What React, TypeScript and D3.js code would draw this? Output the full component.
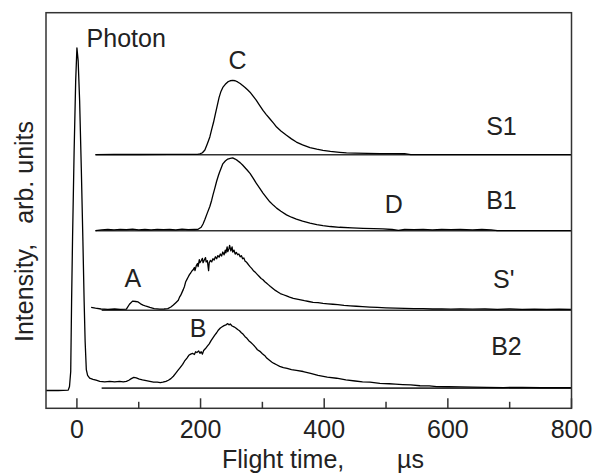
import React from "react";
import * as d3 from "d3";

// ---- data (flight time in µs, intensity in arb. units above each trace baseline) ----
const timeDomain = [-50, 800];
const intensityDomain = [0, 10];
const majorTicks = [0, 200, 400, 600, 800];
const minorTicks = [100, 300, 500, 700];

const traceNames = ["S1", "B1", "S'", "B2"];
const traceOffsets = [6.41, 4.49, 2.48, 0.51];
const baselineStarts = [30, 30, 40, 40];

const s1Trace: [number, number][] = [
  [30, 0], [60, 0.005], [100, 0.005], [150, 0.008], [195, 0.01], [199, 0.02], [203, 0.05], [207, 0.12],
  [211, 0.28], [215, 0.45], [218, 0.64], [221, 0.82], [224, 1.03], [227, 1.24], [230, 1.45], [233, 1.6],
  [236, 1.7], [240, 1.78], [244, 1.84], [248, 1.87], [252, 1.88], [256, 1.87], [260, 1.84], [264, 1.8],
  [268, 1.75], [272, 1.7], [276, 1.64], [280, 1.58], [285, 1.48], [290, 1.38], [295, 1.26], [301, 1.12],
  [306, 1.02], [312, 0.91], [318, 0.8], [323, 0.7], [330, 0.6], [339, 0.49], [347, 0.4], [355, 0.32],
  [365, 0.25], [377, 0.18], [388, 0.14], [398, 0.11], [410, 0.085], [425, 0.06], [436, 0.045],
  [450, 0.04], [470, 0.035], [490, 0.03], [510, 0.03], [530, 0.025], [540, 0.0], [800, 0],
];

const b1Trace: [number, number][] = [
  [30, 0.0], [40, 0.02], [50, 0.03], [60, 0.02], [70, 0.035], [80, 0.025], [90, 0.04], [100, 0.02],
  [110, 0.03], [120, 0.02], [130, 0.035], [140, 0.025], [150, 0.03], [160, 0.02], [170, 0.04],
  [180, 0.025], [190, 0.03], [196, 0.035], [201, 0.086], [204, 0.17], [207, 0.28], [211, 0.45],
  [215, 0.61], [218, 0.77], [220, 0.9], [223, 1.07], [226, 1.25], [229, 1.4], [231, 1.49], [234, 1.61],
  [236, 1.69], [240, 1.76], [244, 1.81], [248, 1.83], [252, 1.84], [256, 1.81], [260, 1.77],
  [264, 1.72], [268, 1.66], [272, 1.59], [276, 1.52], [280, 1.45], [285, 1.33], [290, 1.2],
  [295, 1.09], [301, 0.95], [306, 0.85], [312, 0.73], [318, 0.64], [323, 0.57], [330, 0.49],
  [339, 0.4], [347, 0.34], [355, 0.29], [365, 0.24], [377, 0.19], [388, 0.155], [398, 0.13],
  [410, 0.105], [425, 0.086], [445, 0.07], [463, 0.06], [480, 0.05], [495, 0.045], [510, 0.03],
  [520, 0.01], [530, 0.03], [545, 0.025], [560, 0.035], [575, 0.02], [590, 0.03], [605, 0.025],
  [620, 0.03], [640, 0.02], [655, 0.03], [670, 0.02], [680, 0.0], [800, 0],
];

const sPrimeTrace: [number, number][] = [
  [23, 0.07], [30, 0.05], [39, 0.03], [50, 0.02], [61, 0.03], [70, 0.02], [80, 0.025], [85, 0.15],
  [90, 0.23], [95, 0.22], [99, 0.21], [103, 0.16], [107, 0.13], [112, 0.1], [118, 0.07], [125, 0.04],
  [134, 0.025], [141, 0.03], [147, 0.04], [152, 0.08], [156, 0.13], [160, 0.19], [164, 0.25],
  [166, 0.33], [168, 0.38], [170, 0.45], [172, 0.52], [174, 0.6], [176, 0.72], [178, 0.78],
  [180, 0.84], [182, 0.9], [184, 0.94], [186, 0.99], [188, 1.02], [190, 1.08], [191, 1.0],
  [193, 1.12], [195, 1.18], [196, 1.1], [198, 1.28], [199, 1.2], [201, 1.25], [203, 1.31],
  [204, 1.2], [206, 1.27], [208, 1.33], [209, 1.22], [211, 1.25], [213, 1.0], [214, 1.2],
  [216, 1.26], [218, 1.22], [220, 1.3], [222, 1.27], [224, 1.35], [226, 1.3], [228, 1.38],
  [230, 1.34], [232, 1.42], [234, 1.37], [236, 1.47], [238, 1.4], [240, 1.52], [241, 1.45],
  [243, 1.6], [244, 1.48], [246, 1.56], [247, 1.64], [249, 1.5], [251, 1.6], [252, 1.47],
  [254, 1.52], [256, 1.42], [258, 1.46], [260, 1.4], [262, 1.42], [264, 1.35], [266, 1.38],
  [268, 1.3], [270, 1.32], [272, 1.24], [274, 1.22], [276, 1.18], [278, 1.14], [280, 1.1],
  [283, 1.05], [286, 0.99], [289, 0.95], [292, 0.9], [295, 0.85], [298, 0.8], [301, 0.77],
  [304, 0.72], [307, 0.68], [310, 0.64], [313, 0.6], [317, 0.55], [321, 0.5], [325, 0.46],
  [329, 0.42], [334, 0.39], [339, 0.36], [344, 0.33], [350, 0.3], [356, 0.28], [362, 0.26],
  [368, 0.24], [375, 0.22], [382, 0.2], [390, 0.19], [398, 0.17], [406, 0.16], [414, 0.15],
  [422, 0.14], [432, 0.12], [442, 0.11], [452, 0.1], [462, 0.09], [474, 0.08], [486, 0.07],
  [500, 0.06], [515, 0.05], [530, 0.045], [545, 0.04], [560, 0.04], [575, 0.03], [590, 0.035],
  [605, 0.025], [620, 0.03], [640, 0.025], [660, 0.03], [680, 0.02], [700, 0.03], [720, 0.02],
  [740, 0.025], [760, 0.02], [780, 0.025], [800, 0.02],
];

const b2Trace: [number, number][] = [
  [-50, -0.06], [-30, -0.06], [-14, -0.05], [-12, 0.04], [-10, 0.42], [-8.6, 2.19], [-7, 3.84],
  [-4.5, 6.0], [-2, 7.76], [0, 8.6], [2, 8.28], [4.4, 7.26], [7.1, 5.56], [9.7, 3.71], [11.7, 2.19],
  [13.3, 1.18], [15.2, 0.47], [17.3, 0.32], [20.6, 0.25], [26, 0.22], [31, 0.2], [37, 0.17],
  [45, 0.16], [53, 0.17], [61, 0.16], [69, 0.17], [75, 0.16], [80, 0.17], [84, 0.2], [88, 0.24],
  [92, 0.27], [96, 0.26], [101, 0.23], [106, 0.21], [112, 0.19], [118, 0.17], [124, 0.15],
  [130, 0.15], [135, 0.14], [139, 0.15], [144, 0.17], [148, 0.2], [152, 0.24], [156, 0.3],
  [160, 0.38], [164, 0.46], [167, 0.52], [171, 0.6], [174, 0.68], [178, 0.76], [181, 0.83],
  [184, 0.86], [187, 0.88], [190, 0.85], [192, 0.92], [194, 0.9], [197, 0.94], [199, 0.88],
  [201, 0.92], [203, 0.86], [205, 0.95], [208, 1.0], [211, 1.06], [214, 1.12], [217, 1.2],
  [220, 1.27], [223, 1.34], [226, 1.4], [229, 1.47], [232, 1.52], [235, 1.55], [238, 1.58],
  [241, 1.6], [244, 1.63], [246, 1.6], [248, 1.62], [251, 1.57], [254, 1.55], [257, 1.52],
  [260, 1.48], [263, 1.45], [266, 1.4], [269, 1.36], [272, 1.3], [275, 1.26], [278, 1.2],
  [281, 1.16], [285, 1.1], [289, 1.03], [292, 0.97], [296, 0.93], [300, 0.87], [304, 0.82],
  [307, 0.76], [311, 0.71], [315, 0.66], [318, 0.63], [323, 0.59], [328, 0.55], [334, 0.52],
  [340, 0.5], [347, 0.47], [355, 0.45], [366, 0.42], [378, 0.37], [390, 0.32], [405, 0.28],
  [420, 0.25], [435, 0.21], [450, 0.18], [462, 0.16], [474, 0.15], [490, 0.12], [505, 0.11],
  [515, 0.1], [527, 0.09], [540, 0.08], [555, 0.06], [570, 0.055], [582, 0.04], [600, 0.035],
  [620, 0.03], [640, 0.025], [663, 0.02], [690, 0.015], [720, 0.02], [750, 0.01], [780, 0.015],
  [800, 0.01],
];

const traces = [s1Trace, b1Trace, sPrimeTrace, b2Trace];

// annotations: text, time (µs), intensity (arb. units)
const annotationTexts = ["Photon", "C", "S1", "B1", "D", "S'", "B2", "A", "B"];
const annotationTimes = [15.7, 260, 662, 662, 498, 673, 670, 77, 182.5];
const annotationLevels = [9.14, 8.58, 6.91, 5.04, 4.94, 3.04, 1.34, 3.06, 1.8];
const annotationAnchors = ["start", "middle", "start", "start", "start", "start", "start", "start", "start"];

export default function App() {
  const width = 597;
  const height = 475;
  const left = 46;
  const right = 571.5;
  const top = 12.7;
  const bottom = 408.3;

  const x = d3.scaleLinear().domain(timeDomain).range([left, right]);
  const y = d3.scaleLinear().domain(intensityDomain).range([bottom, top]);

  const font = "'Liberation Sans', Arial, Helvetica, sans-serif";
  const ink = "#222";

  return (
    <svg
      width={width}
      height={height}
      style={{ position: "absolute", left: 0, top: 0, background: "#fff" }}
      fontFamily={font}
    >
      {/* baselines */}
      {traceOffsets.map((off, i) => (
        <line
          key={"bl" + i}
          x1={x(baselineStarts[i])}
          x2={x(800)}
          y1={y(off)}
          y2={y(off)}
          stroke="#333"
          strokeWidth={1.6}
        />
      ))}
      {/* traces */}
      {traces.map((tr, i) => {
        const line = d3
          .line<[number, number]>()
          .x((d) => x(d[0]))
          .y((d) => y(d[1] + traceOffsets[i]));
        return (
          <path
            key={traceNames[i]}
            d={line(tr) || ""}
            fill="none"
            stroke="#000"
            strokeWidth={1.3}
            strokeLinejoin="round"
          />
        );
      })}
      {/* frame */}
      <rect
        x={left}
        y={top}
        width={right - left}
        height={bottom - top}
        fill="none"
        stroke="#333"
        strokeWidth={1.5}
      />
      {/* ticks */}
      {majorTicks.map((t) => (
        <g key={"mt" + t}>
          <line x1={x(t)} x2={x(t)} y1={bottom} y2={bottom - 10} stroke="#333" strokeWidth={1.5} />
          <text x={x(t)} y={438} textAnchor="middle" fontSize={25} fill={ink}>
            {t}
          </text>
        </g>
      ))}
      {minorTicks.map((t) => (
        <line key={"nt" + t} x1={x(t)} x2={x(t)} y1={bottom} y2={bottom - 6.5} stroke="#333" strokeWidth={1.5} />
      ))}
      {/* axis titles */}
      <text y={468} fontSize={25} fill={ink}>
        <tspan x={222}>Flight time,</tspan>
        <tspan x={397}>µs</tspan>
      </text>
      <text transform="translate(33,342) rotate(-90)" fontSize={25} fill={ink}>
        <tspan>Intensity,</tspan>
        <tspan dx={20}>arb. units</tspan>
      </text>
      {/* annotations */}
      {annotationTexts.map((s, i) => (
        <text
          key={"an" + i}
          x={x(annotationTimes[i])}
          y={y(annotationLevels[i])}
          textAnchor={annotationAnchors[i]}
          fontSize={25}
          fill={ink}
        >
          {s}
        </text>
      ))}
    </svg>
  );
}
